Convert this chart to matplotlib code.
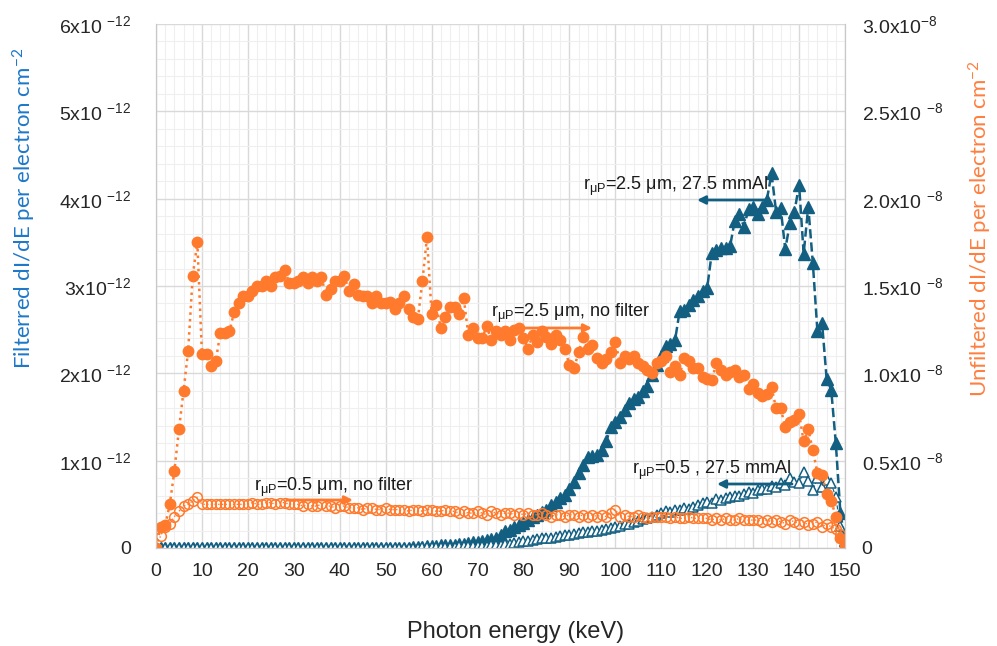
import matplotlib
matplotlib.use("Agg")
import matplotlib.pyplot as plt
from matplotlib.ticker import MultipleLocator
import numpy as np

plt.rcParams['font.family'] = ['Liberation Sans', 'DejaVu Sans']
plt.rcParams['mathtext.fontset'] = 'custom'
plt.rcParams['mathtext.rm'] = 'Liberation Sans'
plt.rcParams['mathtext.it'] = 'Liberation Sans:italic'
plt.rcParams['mathtext.default'] = 'regular'

# photon energy, keV
energy = np.arange(0, 151)

# r_uP = 2.5 um, no filter (right axis, x1e-8)
unfilt_25 = [
    0.00, 0.12, 0.13, 0.25, 0.44, 0.68, 0.90, 1.13, 1.56, 1.75,
    1.11, 1.11, 1.04, 1.07, 1.23, 1.23, 1.24, 1.35, 1.40, 1.44,
    1.44, 1.47, 1.50, 1.50, 1.53, 1.50, 1.55, 1.56, 1.59, 1.52,
    1.52, 1.53, 1.55, 1.52, 1.55, 1.53, 1.55, 1.45, 1.48, 1.53,
    1.53, 1.56, 1.47, 1.51, 1.45, 1.44, 1.44, 1.40, 1.44, 1.40,
    1.40, 1.41, 1.37, 1.40, 1.44, 1.37, 1.32, 1.31, 1.53, 1.78,
    1.34, 1.39, 1.26, 1.32, 1.38, 1.38, 1.34, 1.43, 1.22, 1.26,
    1.20, 1.20, 1.27, 1.19, 1.24, 1.22, 1.24, 1.19, 1.25, 1.26,
    1.20, 1.14, 1.22, 1.18, 1.24, 1.21, 1.17, 1.22, 1.19, 1.14,
    1.05, 1.03, 1.12, 1.21, 1.14, 1.16, 1.09, 1.06, 1.08, 1.12,
    1.18, 1.06, 1.10, 1.08, 1.10, 1.06, 1.04, 1.02, 1.00, 1.06,
    1.07, 1.10, 1.01, 1.04, 0.99, 1.09, 1.07, 1.03, 1.03, 0.98,
    0.97, 0.96, 1.06, 1.02, 0.99, 1.01, 1.02, 0.98, 0.99, 0.91,
    0.94, 0.89, 0.87, 0.88, 0.92, 0.80, 0.80, 0.69, 0.72, 0.73,
    0.77, 0.61, 0.68, 0.56, 0.43, 0.42, 0.31, 0.27, 0.18, 0.06,
    0.01]

# r_uP = 0.5 um, no filter (right axis, x1e-8)
unfilt_05 = [
    0.00, 0.07, 0.12, 0.14, 0.18, 0.21, 0.24, 0.25, 0.27, 0.29,
    0.25, 0.25, 0.25, 0.25, 0.25, 0.25, 0.25, 0.25, 0.25, 0.25,
    0.25, 0.26, 0.25, 0.25, 0.26, 0.26, 0.25, 0.26, 0.26, 0.25,
    0.25, 0.25, 0.24, 0.25, 0.24, 0.24, 0.25, 0.24, 0.24, 0.23,
    0.24, 0.24, 0.23, 0.23, 0.23, 0.22, 0.23, 0.23, 0.22, 0.22,
    0.23, 0.22, 0.22, 0.22, 0.22, 0.21, 0.22, 0.22, 0.21, 0.22,
    0.22, 0.21, 0.21, 0.22, 0.21, 0.21, 0.20, 0.21, 0.20, 0.20,
    0.21, 0.20, 0.19, 0.21, 0.20, 0.19, 0.20, 0.20, 0.19, 0.20,
    0.19, 0.20, 0.19, 0.19, 0.20, 0.19, 0.18, 0.19, 0.19, 0.18,
    0.19, 0.19, 0.18, 0.19, 0.18, 0.19, 0.18, 0.19, 0.18, 0.20,
    0.22, 0.18, 0.19, 0.18, 0.18, 0.19, 0.18, 0.17, 0.18, 0.18,
    0.18, 0.18, 0.17, 0.18, 0.17, 0.17, 0.18, 0.17, 0.17, 0.17,
    0.17, 0.16, 0.17, 0.16, 0.17, 0.16, 0.16, 0.17, 0.16, 0.16,
    0.16, 0.16, 0.15, 0.16, 0.15, 0.16, 0.15, 0.14, 0.16, 0.15,
    0.14, 0.15, 0.13, 0.14, 0.15, 0.12, 0.14, 0.12, 0.11, 0.08,
    0.00]

# r_uP = 2.5 um, 27.5 mmAl (left axis, x1e-12)
filt_25 = [
    0.00, 0.00, 0.00, 0.00, 0.00, 0.00, 0.00, 0.00, 0.00, 0.00,
    0.00, 0.00, 0.00, 0.00, 0.00, 0.00, 0.00, 0.00, 0.00, 0.00,
    0.00, 0.00, 0.00, 0.00, 0.00, 0.00, 0.00, 0.00, 0.00, 0.00,
    0.00, 0.00, 0.00, 0.00, 0.00, 0.00, 0.00, 0.00, 0.00, 0.00,
    0.00, 0.00, 0.00, 0.00, 0.00, 0.00, 0.00, 0.00, 0.00, 0.00,
    0.00, 0.00, 0.00, 0.00, 0.00, 0.00, 0.01, 0.01, 0.01, 0.02,
    0.02, 0.02, 0.03, 0.03, 0.04, 0.04, 0.05, 0.05, 0.06, 0.07,
    0.07, 0.08, 0.09, 0.10, 0.12, 0.15, 0.19, 0.21, 0.24, 0.26,
    0.29, 0.32, 0.35, 0.38, 0.41, 0.44, 0.49, 0.53, 0.57, 0.61,
    0.68, 0.76, 0.86, 0.95, 1.04, 1.05, 1.06, 1.12, 1.22, 1.38,
    1.44, 1.50, 1.58, 1.66, 1.71, 1.73, 1.80, 1.86, 1.98, 2.10,
    2.20, 2.31, 2.34, 2.38, 2.71, 2.72, 2.78, 2.84, 2.88, 2.94,
    2.98, 3.38, 3.41, 3.43, 3.44, 3.46, 3.75, 3.82, 3.68, 3.88,
    3.91, 3.83, 3.90, 3.99, 4.29, 3.85, 3.89, 3.42, 3.72, 3.85,
    4.16, 3.37, 3.91, 3.26, 2.48, 2.58, 1.94, 1.81, 1.20, 0.40,
    0.09]

# r_uP = 0.5 um, 27.5 mmAl (left axis, x1e-12)
filt_05 = [
    0.00, 0.00, 0.00, 0.00, 0.00, 0.00, 0.00, 0.00, 0.00, 0.00,
    0.00, 0.00, 0.00, 0.00, 0.00, 0.00, 0.00, 0.00, 0.00, 0.00,
    0.00, 0.00, 0.00, 0.00, 0.00, 0.00, 0.00, 0.00, 0.00, 0.00,
    0.00, 0.00, 0.00, 0.00, 0.00, 0.00, 0.00, 0.00, 0.00, 0.00,
    0.00, 0.00, 0.00, 0.00, 0.00, 0.00, 0.00, 0.00, 0.00, 0.00,
    0.00, 0.00, 0.00, 0.00, 0.00, 0.00, 0.00, 0.00, 0.01, 0.01,
    0.01, 0.01, 0.01, 0.01, 0.01, 0.01, 0.02, 0.02, 0.02, 0.02,
    0.02, 0.02, 0.02, 0.03, 0.03, 0.04, 0.05, 0.05, 0.06, 0.07,
    0.08, 0.08, 0.09, 0.10, 0.11, 0.11, 0.12, 0.13, 0.14, 0.15,
    0.15, 0.16, 0.17, 0.18, 0.18, 0.19, 0.20, 0.21, 0.22, 0.23,
    0.24, 0.25, 0.27, 0.28, 0.30, 0.31, 0.33, 0.34, 0.36, 0.38,
    0.40, 0.42, 0.41, 0.43, 0.44, 0.46, 0.45, 0.47, 0.49, 0.51,
    0.53, 0.52, 0.56, 0.55, 0.57, 0.58, 0.60, 0.59, 0.62, 0.64,
    0.63, 0.66, 0.68, 0.67, 0.71, 0.70, 0.74, 0.72, 0.80, 0.76,
    0.75, 0.87, 0.77, 0.66, 0.80, 0.70, 0.78, 0.74, 0.58, 0.25,
    0.02]

left_ticks = [0, 1, 2, 3, 4, 5, 6]
left_labels = ["0", "1x10 $^{-12}$", "2x10 $^{-12}$", "3x10$^{-12}$",
               "4x10 $^{-12}$", "5x10 $^{-12}$", "6x10 $^{-12}$"]
right_ticks = [0, 0.5, 1.0, 1.5, 2.0, 2.5, 3.0]
right_labels = ["0", "0.5x10 $^{-8}$", "1.0x10 $^{-8}$", "1.5x10 $^{-8}$",
                "2.0x10 $^{-8}$", "2.5x10 $^{-8}$", "3.0x10$^{-8}$"]

blue = "#135F82"
orange = "#FF7A2C"
tick_col = "#262626"

fig = plt.figure(figsize=(9.97, 6.46), dpi=100)
ax = fig.add_axes([156/997, 98/646, 689/997, 524/646])
ax2 = ax.twinx()

# filtered spectra, left axis
ax.plot(energy, filt_25, color=blue, ls="--", lw=1.8, marker="^", ms=8,
        mfc=blue, mec=blue)
ax.plot(energy, filt_05, color=blue, ls="--", lw=0.8, marker="^", ms=7,
        mfc="white", mec=blue, mew=1.1)

# unfiltered spectra, right axis
ax2.plot(energy, unfilt_05, color=orange, ls=":", lw=1.0, marker="o", ms=7,
         mfc="none", mec=orange, mew=1.1)
ax2.plot(energy, unfilt_25, color=orange, ls=":", lw=1.8, marker="o", ms=7.5,
         mfc=orange, mec=orange)

ax.set_xlim(0, 150)
ax.set_ylim(0, 6)
ax2.set_ylim(0, 3)

ax.xaxis.set_major_locator(MultipleLocator(10))
ax.xaxis.set_minor_locator(MultipleLocator(2))
ax.yaxis.set_minor_locator(MultipleLocator(0.2))
ax.set_yticks(left_ticks)
ax.set_yticklabels(left_labels)
ax2.set_yticks(right_ticks)
ax2.set_yticklabels(right_labels)

ax.grid(which="major", color="#d9d9d9", lw=1.0)
ax.grid(which="minor", color="#efefef", lw=0.8)
ax.set_axisbelow(True)

for a in (ax, ax2):
    for s in a.spines.values():
        s.set_color("#c8c8c8")
    a.spines["top"].set_visible(False)
ax.tick_params(axis="both", which="both", length=0, labelsize=14, labelcolor=tick_col)
ax.tick_params(axis="y", pad=18)
ax.tick_params(axis="x", pad=11)
ax2.tick_params(axis="y", length=0, labelsize=14, labelcolor=tick_col, pad=12)


def px(x, y):
    # figure pixel (top-left origin) -> figure fraction
    return (x / 997, 1 - y / 646)


# axis titles placed like the original
fig.text(*px(516, 632), "Photon energy (keV)", fontsize=17, color=tick_col,
         ha="center", va="center")
fig.text(*px(24, 208), "Filterred dI/dE per electron cm$^{-2}$", fontsize=16,
         color="#1E78C8", family="Lato", rotation=90, ha="center", va="center")
fig.text(*px(980, 228), "Unfiltered dI/dE per electron cm$^{-2}$", fontsize=16,
         color="#FF7F3F", family="Lato", rotation=90, ha="center", va="center")

# series annotations, text sits just above each arrow
lbl = dict(fontsize=13, color="#1a1a1a", va="center")
fig.text(*px(583, 186), "r$_{μP}$=2.5 μm, 27.5 mmAl", **lbl)
fig.text(*px(491, 313), "r$_{μP}$=2.5 μm, no filter", **lbl)
fig.text(*px(254, 487), "r$_{μP}$=0.5 μm, no filter", **lbl)
fig.text(*px(632, 470), "r$_{μP}$=0.5 , 27.5 mmAl", **lbl)

arrows = [((768, 200), (697, 200), blue),
          ((520, 328), (592, 328), orange),
          ((287, 500), (353, 500), orange),
          ((792, 484), (717, 484), blue)]
for (x0, y0), (x1, y1), c in arrows:
    ax.annotate("", xy=px(x1, y1), xytext=px(x0, y0),
                xycoords="figure fraction", textcoords="figure fraction",
                arrowprops=dict(arrowstyle="-|>", color=c, lw=2,
                                mutation_scale=12, shrinkA=0, shrinkB=0))

fig.savefig("out.png", dpi=100)
